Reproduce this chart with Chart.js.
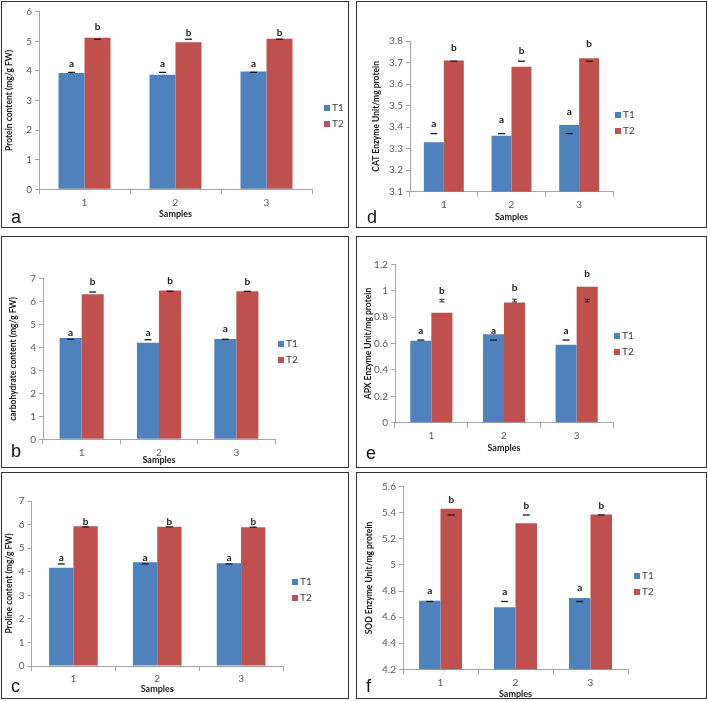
<!DOCTYPE html>
<html><head><meta charset="utf-8">
<script src="https://cdn.jsdelivr.net/npm/chart.js@4.4.0/dist/chart.umd.min.js"></script>
<style>
html,body{margin:0;padding:0;background:#fff;width:708px;height:701px;overflow:hidden;position:relative}
.box{position:absolute;box-sizing:border-box;border:1.5px solid #333;pointer-events:none}
canvas{position:absolute}
.lab{position:absolute;font:18px "Liberation Sans",Arial,sans-serif;color:#111;line-height:18px}
</style></head><body>
<script>
// ---------- data ----------
const samples = ['1', '2', '3'];
const seriesNames = ['T1', 'T2'];
const sigT1 = ['a', 'a', 'a'];
const sigT2 = ['b', 'b', 'b'];

// a: protein content (mg/g FW)
const proteinT1 = [3.93, 3.87, 3.98];
const proteinT2 = [5.12, 4.97, 5.09];
const proteinErrT1 = [3.95, 3.95, 3.95];
const proteinErrT2 = [5.07, 5.07, 5.07];
const proteinSigPosT1 = [4.23, 4.23, 4.23];
const proteinSigPosT2 = [5.49, 5.30, 5.30];
const proteinTicks = [0, 1, 2, 3, 4, 5, 6];

// b: carbohydrate content (mg/g FW)
const carbT1 = [4.41, 4.21, 4.37];
const carbT2 = [6.32, 6.49, 6.45];
const carbErrT1 = [4.36, 4.34, 4.36];
const carbErrT2 = [6.42, 6.45, 6.45];
const carbSigPosT1 = [4.65, 4.65, 4.82];
const carbSigPosT2 = [6.85, 6.93, 6.88];
const carbTicks = [0, 1, 2, 3, 4, 5, 6, 7];

// c: proline content (mg/g FW)
const prolineT1 = [4.17, 4.40, 4.36];
const prolineT2 = [5.93, 5.91, 5.89];
const prolineErrT1 = [4.33, 4.33, 4.33];
const prolineErrT2 = [5.90, 5.90, 5.89];
const prolineSigPosT1 = [4.57, 4.57, 4.57];
const prolineSigPosT2 = [6.10, 6.10, 6.10];
const prolineTicks = [0, 1, 2, 3, 4, 5, 6, 7];

// d: CAT enzyme unit/mg protein
const catT1 = [3.33, 3.36, 3.41];
const catT2 = [3.71, 3.68, 3.72];
const catErrT1 = [3.37, 3.37, 3.37];
const catErrT2 = [3.706, 3.706, 3.706];
const catSigPosT1 = [3.414, 3.433, 3.469];
const catSigPosT2 = [3.769, 3.753, 3.789];
const catTicks = [3.1, 3.2, 3.3, 3.4, 3.5, 3.6, 3.7, 3.8];

// e: APX enzyme unit/mg protein
const apxT1 = [0.62, 0.67, 0.59];
const apxT2 = [0.833, 0.91, 1.03];
const apxErrT1 = [0.626, 0.626, 0.626];
const apxErrT2 = [0.925, 0.925, 0.925];
const apxErrHalfT2 = [0.01, 0.01, 0.01];
const apxSigPosT1 = [0.695, 0.695, 0.70];
const apxSigPosT2 = [1.0, 1.025, 1.13];
const apxTicks = [0, 0.2, 0.4, 0.6, 0.8, 1, 1.2];

// f: SOD enzyme unit/mg protein
const sodT1 = [4.726, 4.675, 4.747];
const sodT2 = [5.43, 5.32, 5.386];
const sodErrT1 = [4.72, 4.72, 4.72];
const sodErrT2 = [5.383, 5.383, 5.383];
const sodSigPosT1 = [4.80, 4.795, 4.826];
const sodSigPosT2 = [5.498, 5.455, 5.455];
const sodTicks = [4.2, 4.4, 4.6, 4.8, 5, 5.2, 5.4, 5.6];

const zero3 = [0, 0, 0];

// ---------- layout (pixels) ----------
const FONT = 'Lato, "Open Sans", sans-serif';
const panels = [
  {letter:'a', box:[1,1,348,227], plot:[39,11.7,312,189.3], ytitle:'Protein content (mg/g FW)', ticks:proteinTicks,
   t1:proteinT1, t2:proteinT2, e1:proteinErrT1, e2:proteinErrT2, h1:zero3, h2:zero3, s1:proteinSigPosT1, s2:proteinSigPosT2,
   ytPad:3.5, xtPad:8.3, cat:0.571, leg:[326,107], lab:[11,208]},
  {letter:'d', box:[356,1,351,227], plot:[410,41,613,191.7], ytitle:'CAT Enzyme Unit/mg protein', ticks:catTicks,
   t1:catT1, t2:catT2, e1:catErrT1, e2:catErrT2, h1:zero3, h2:zero3, s1:catSigPosT1, s2:catSigPosT2,
   ytPad:15, xtPad:5.9, cat:0.59, leg:[262,114], lab:[367,208]},
  {letter:'b', box:[1,236,348,232], plot:[43,278.7,275,439.3], ytitle:'carbohydrate content (mg/g FW)', ticks:carbTicks,
   t1:carbT1, t2:carbT2, e1:carbErrT1, e2:carbErrT2, h1:zero3, h2:zero3, s1:carbSigPosT1, s2:carbSigPosT2,
   ytPad:7.5, xtPad:2.3, cat:0.57, leg:[280,108], lab:[11,442]},
  {letter:'e', box:[356,236,351,232], plot:[395,264.3,613,422.7], ytitle:'APX Enzyme Unit/mg protein', ticks:apxTicks,
   t1:apxT1, t2:apxT2, e1:apxErrT1, e2:apxErrT2, h1:zero3, h2:apxErrHalfT2, s1:apxSigPosT1, s2:apxSigPosT2,
   ytPad:7, xtPad:14.6, cat:0.58, leg:[261,100], lab:[366,444]},
  {letter:'c', box:[1,472,348,227], plot:[31.5,501,283,666], ytitle:'Proline content (mg/g FW)', ticks:prolineTicks,
   t1:prolineT1, t2:prolineT2, e1:prolineErrT1, e2:prolineErrT2, h1:zero3, h2:zero3, s1:prolineSigPosT1, s2:prolineSigPosT2,
   ytPad:3, xtPad:4.3, cat:0.58, leg:[294,110], lab:[11,677]},
  {letter:'f', box:[356,472,351,227], plot:[403,486.7,628,669.3], ytitle:'SOD Enzyme Unit/mg protein', ticks:sodTicks,
   t1:sodT1, t2:sodT2, e1:sodErrT1, e2:sodErrT2, h1:zero3, h2:zero3, s1:sodSigPosT1, s2:sodSigPosT2,
   ytPad:8, xtPad:0, cat:0.573, leg:[281,104], lab:[366,677]}
];

const COLORS = ['#4F81BD', '#C0504D'];
const AXIS = '#a6a6a6';

const overlay = {
  id: 'overlay',
  afterDatasetsDraw(chart, args, opts) {
    const p = opts.p, ctx = chart.ctx, ys = chart.scales.y;
    const err = [p.e1, p.e2], half = [p.h1, p.h2], sig = [sigT1, sigT2], sigPos = [p.s1, p.s2];
    ctx.save();
    chart.data.datasets.forEach((ds, i) => {
      chart.getDatasetMeta(i).data.forEach((bar, j) => {
        const x = bar.x, h = half[i][j];
        ctx.strokeStyle = '#1a1a1a';
        ctx.beginPath();
        if (h > 0) {
          ctx.lineWidth = 0.9;
          const yt = ys.getPixelForValue(err[i][j] + h), yb = ys.getPixelForValue(err[i][j] - h);
          ctx.moveTo(x, yt); ctx.lineTo(x, yb);
          ctx.moveTo(x - 2.5, yt); ctx.lineTo(x + 2.5, yt);
          ctx.moveTo(x - 2.5, yb); ctx.lineTo(x + 2.5, yb);
        } else {
          ctx.lineWidth = 1.3;
          const yc = ys.getPixelForValue(err[i][j]);
          ctx.moveTo(x - 3.5, yc); ctx.lineTo(x + 3.5, yc);
        }
        ctx.stroke();
        ctx.fillStyle = '#1a1a1a';
        ctx.font = 'bold 10px ' + FONT;
        ctx.textAlign = 'center';
        ctx.textBaseline = 'middle';
        ctx.fillText(sig[i][j], x, ys.getPixelForValue(sigPos[i][j]));
      });
    });
    // legend
    chart.data.datasets.forEach((ds, i) => {
      const lx = p.leg[0], ly = p.leg[1] + i * 16;
      ctx.fillStyle = ds.backgroundColor;
      ctx.fillRect(lx - 3, ly - 3, 6, 6);
      ctx.fillStyle = '#404040';
      ctx.font = '10px ' + FONT;
      ctx.textAlign = 'left';
      ctx.textBaseline = 'middle';
      ctx.fillText(ds.label, lx + 5, ly);
    });
    ctx.restore();
  }
};

panels.forEach(p => {
  const [bx, by, bw, bh] = p.box;
  const [L, T, R, B] = p.plot;
  const cv = document.createElement('canvas');
  cv.width = bw; cv.height = bh;
  cv.style.left = bx + 'px'; cv.style.top = by + 'px';
  cv.style.width = bw + 'px'; cv.style.height = bh + 'px';
  document.body.appendChild(cv);
  const border = document.createElement('div');
  border.className = 'box';
  border.style.left = bx + 'px'; border.style.top = by + 'px';
  border.style.width = bw + 'px'; border.style.height = bh + 'px';
  document.body.appendChild(border);
  const lab = document.createElement('div');
  lab.className = 'lab';
  lab.textContent = p.letter;
  lab.style.left = p.lab[0] + 'px'; lab.style.top = p.lab[1] + 'px';
  document.body.appendChild(lab);

  const tk = p.ticks;
  new Chart(cv, {
    type: 'bar',
    data: {
      labels: samples,
      datasets: [
        {label: seriesNames[0], data: p.t1, backgroundColor: COLORS[0], borderWidth: 0},
        {label: seriesNames[1], data: p.t2, backgroundColor: COLORS[1], borderWidth: 0}
      ]
    },
    options: {
      responsive: false, animation: false, devicePixelRatio: 1,
      layout: {padding: {left: 0, top: T - by, right: bx + bw - R, bottom: 0}},
      datasets: {bar: {barPercentage: 1, categoryPercentage: p.cat}},
      plugins: {legend: {display: false}, tooltip: {enabled: false}, overlay: {p}},
      scales: {
        x: {
          offset: true,
          afterFit: s => { s.height = by + bh - B; },
          grid: {display: true, drawOnChartArea: false, drawTicks: true, tickLength: 5, color: AXIS, offset: true},
          border: {display: true, color: AXIS, width: 1},
          ticks: {color: '#595959', font: {family: FONT, size: 10}, padding: 2, maxRotation: 0},
          title: {display: true, text: 'Samples', color: '#1a1a1a', font: {family: FONT, size: 9, weight: 'bold'}, padding: {top: 0, bottom: p.xtPad}}
        },
        y: {
          min: tk[0], max: tk[tk.length - 1],
          afterFit: s => { s.width = L - bx; },
          afterBuildTicks: s => { s.ticks = tk.map(v => ({value: v})); },
          grid: {display: true, drawOnChartArea: false, drawTicks: true, tickLength: 4, color: AXIS},
          border: {display: true, color: AXIS, width: 1},
          ticks: {color: '#595959', font: {family: FONT, size: 10}, padding: 3, callback: v => String(+Number(v).toFixed(2))},
          title: {display: true, text: p.ytitle, color: '#1a1a1a', font: {family: FONT, size: 8.5, weight: 'bold'}, padding: {top: p.ytPad, bottom: 0}}
        }
      }
    },
    plugins: [overlay]
  });
});
</script>
</body></html>
